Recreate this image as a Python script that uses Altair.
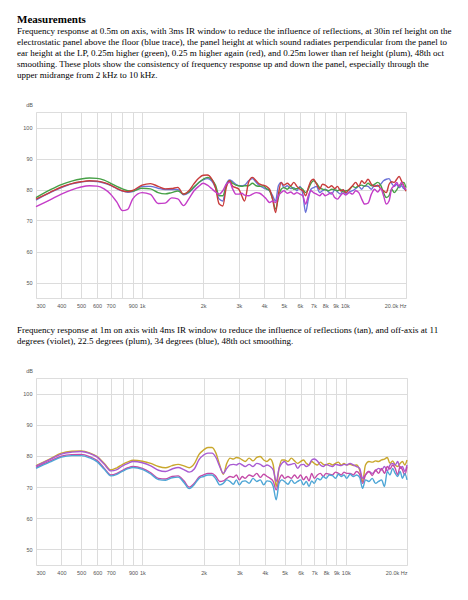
import altair as alt
import pandas as pd

# Frequencies (Hz) shared by all traces
freqs = [300, 350, 400, 450, 500, 550, 600, 650, 700, 750, 800, 850, 900,
         1000, 1100, 1200, 1300, 1400, 1500, 1600, 1700, 1800, 1900, 2000,
         2100, 2200, 2300, 2400, 2500, 2600, 2700, 2800, 2900, 3000, 3100, 3200,
         3350, 3500, 3650, 3800, 3950,
         4100, 4250, 4400, 4550, 4700, 4850, 5000,
         5200, 5400, 5600, 5800, 6000, 6200, 6400, 6600, 6800, 7000,
         7250, 7500, 7750, 8000,
         8300, 8600, 8900, 9200, 9500, 9800, 10100,
         10500, 10900, 11300, 11700, 12100, 12500,
         13000, 13500, 14000, 14500, 15000, 15500, 16000, 16500, 17000, 17500,
         18000, 18500, 19000, 19500, 20000]

# ---- Chart 1 : 0.5 m, different heights ----
blue1 = [76.6, 78.9, 80.6, 81.8, 82.4, 82.7, 82.6, 82.1, 81.3, 80.3, 79.5, 79.1, 79.3,
         81.0, 81.0, 80.4, 80.0, 80.0, 80.0, 78.3, 79.0, 80.6, 82.2, 83.1,
         83.5, 82.8, 80.6, 76.9, 76.3, 81.7, 83.1, 82.5, 81.7, 81.2, 81.2, 81.4,
         82.8, 83.5, 82.3, 81.2, 80.6,
         80.1, 79.6, 78.0, 76.3, 81.2, 82.3, 80.6,
         81.2, 80.3, 80.6, 79.6, 81.0, 78.5, 72.6, 76.9, 80.1, 80.6,
         81.0, 79.0, 79.6, 80.1,
         79.2, 78.5, 79.9, 79.2, 78.5, 79.9, 78.5,
         79.2, 79.6, 80.3, 81.0, 80.1, 81.2,
         81.0, 80.1, 81.4, 81.0, 81.7, 82.8, 83.3, 83.5, 82.0, 81.0,
         81.7, 80.6, 81.2, 80.3, 79.9]
green1 = [77.4, 79.8, 81.6, 82.7, 83.4, 83.7, 83.6, 83.0, 82.0, 81.0, 80.2, 79.6, 79.5,
          80.4, 80.2, 79.0, 78.6, 79.0, 79.5, 78.6, 79.2, 80.8, 82.2, 83.3,
          83.9, 83.3, 81.4, 78.0, 78.0, 81.2, 82.8, 82.0, 81.4, 81.2, 81.0, 81.2,
          81.2, 82.0, 81.2, 81.0, 81.2,
          80.3, 79.6, 76.9, 73.7, 77.4, 80.1, 80.6,
          80.1, 81.0, 80.1, 80.3, 80.6, 80.1, 79.0, 80.1, 82.0, 82.8,
          82.0, 80.6, 80.1, 79.9,
          79.6, 80.1, 79.9, 79.6, 80.1, 79.2, 79.6,
          79.9, 81.0, 80.6, 81.2, 81.4, 81.0,
          82.0, 81.2, 81.7, 82.3, 81.4, 79.0, 77.4, 78.0, 80.1, 79.0,
          79.9, 81.2, 81.7, 82.3, 80.6]
red1 = [76.9, 79.0, 80.8, 81.9, 82.5, 82.8, 82.7, 82.2, 81.4, 80.4, 79.6, 79.3, 79.7,
        81.4, 81.9, 81.0, 80.2, 80.3, 80.7, 78.5, 79.6, 81.8, 83.6, 84.6,
        84.7, 83.5, 80.6, 75.3, 74.7, 80.6, 82.8, 81.0, 80.6, 80.1, 78.0, 76.3,
        82.3, 83.9, 82.8, 81.7, 81.4,
        81.0, 80.1, 76.9, 72.6, 78.5, 82.3, 81.4,
        82.0, 81.2, 82.3, 81.0, 80.1, 79.6, 78.0, 80.6, 82.8, 83.3,
        81.7, 80.1, 81.7, 81.4,
        80.6, 81.2, 80.3, 81.0, 79.6, 79.9, 79.0,
        80.1, 81.2, 82.3, 81.0, 82.8, 82.0,
        83.3, 81.7, 81.0, 81.4, 80.3, 79.6, 79.0, 81.7, 82.5, 82.3,
        83.3, 84.2, 82.8, 81.2, 79.4]
plum1 = [74.5, 76.6, 78.5, 79.9, 80.8, 81.2, 81.1, 80.2, 78.5, 76.0, 73.2, 73.6, 77.0,
         79.0, 78.4, 75.5, 75.6, 77.3, 77.0, 74.8, 77.0, 79.5, 81.0, 82.0,
         81.4, 80.3, 79.2, 78.5, 79.6, 81.7, 82.3, 80.1, 78.5, 78.5, 78.8, 78.2,
         78.0, 78.5, 79.0, 78.8, 78.0,
         76.9, 75.8, 76.3, 75.8, 78.0, 79.0, 79.6,
         78.8, 79.2, 78.5, 79.0, 78.5, 78.0, 75.3, 78.0, 79.6, 79.0,
         78.5, 78.0, 78.8, 78.0,
         78.5, 79.0, 77.4, 76.9, 78.0, 78.8, 78.2,
         79.0, 78.5, 79.6, 79.0, 76.9, 75.3,
         75.6, 78.5, 80.1, 79.2, 80.3, 78.0, 75.3, 76.3, 80.3, 81.2,
         82.3, 81.0, 82.3, 81.0, 79.9]

# ---- Chart 2 : 1 m, on and off axis ----
tan2 = [76.9, 79.0, 80.9, 81.5, 81.6, 81.0, 79.8, 77.6, 75.5, 76.2, 77.3, 78.1, 78.6,
        78.3, 77.6, 76.6, 76.2, 76.9, 77.3, 76.8, 76.2, 77.5, 80.5, 81.9,
        82.7, 82.7, 80.9, 77.1, 74.1, 77.6, 79.3, 79.0, 79.5, 79.3, 78.7, 78.2,
        79.3, 78.4, 79.5, 79.8, 78.7,
        78.2, 79.0, 77.1, 70.2, 76.0, 78.7, 78.7,
        78.2, 79.3, 78.4, 77.6, 78.2, 78.7, 77.6, 77.1, 78.2, 77.6,
        77.1, 78.0, 77.3, 77.1,
        77.6, 77.1, 77.6, 78.0, 77.1, 77.6, 77.1,
        77.3, 76.9, 77.1, 75.5, 71.8, 77.1,
        78.2, 78.0, 78.4, 78.2, 78.7, 79.0, 79.5, 77.6, 78.4, 77.1,
        76.6, 77.6, 78.2, 77.1, 78.7]
violet2 = [76.7, 78.8, 80.6, 81.2, 81.4, 80.8, 79.6, 77.3, 75.2, 75.6, 76.8, 77.6, 78.2,
           77.8, 76.8, 75.4, 75.0, 75.8, 76.3, 75.6, 74.8, 75.8, 78.8, 80.3,
           80.9, 80.9, 79.5, 76.6, 74.4, 76.0, 77.1, 77.3, 77.1, 77.6, 77.1, 76.6,
           77.3, 76.6, 77.6, 77.3, 76.6,
           77.1, 76.6, 75.5, 71.8, 76.0, 77.6, 78.2,
           77.1, 77.3, 77.6, 76.0, 77.1, 77.3, 76.6, 77.1, 78.7, 79.0,
           78.4, 77.1, 76.6, 77.3,
           76.9, 76.6, 77.3, 77.1, 76.9, 77.3, 77.1,
           77.6, 77.1, 76.6, 76.0, 72.8, 73.9,
           75.0, 74.4, 75.2, 76.0, 75.5, 76.6, 75.2, 77.1, 77.6, 77.1,
           78.2, 76.0, 76.6, 75.0, 77.1]
plum2 = [76.3, 78.3, 79.9, 80.4, 80.5, 79.8, 78.5, 76.0, 73.9, 74.4, 75.4, 76.2, 76.6,
         76.0, 74.6, 72.8, 72.6, 73.4, 73.6, 72.0, 70.0, 71.2, 73.2, 73.9,
         74.4, 74.4, 73.4, 71.8, 72.0, 72.8, 73.4, 73.1, 73.9, 72.3, 73.4, 72.8,
         73.9, 73.4, 74.4, 73.1, 74.1,
         73.4, 72.8, 71.8, 69.1, 72.3, 73.9, 72.8,
         73.4, 72.8, 73.9, 72.8, 73.9, 72.3, 73.4, 72.0, 74.4, 72.8,
         73.9, 74.4, 73.4, 74.4,
         74.1, 73.9, 74.8, 74.4, 73.9, 74.8, 74.4,
         74.4, 73.9, 75.0, 74.1, 71.2, 73.9,
         75.0, 73.7, 75.5, 74.4, 76.0, 74.4, 76.6, 75.8, 77.1, 76.0,
         73.9, 76.6, 75.5, 73.9, 76.6]
blue2 = [76.0, 78.0, 79.6, 80.1, 80.1, 79.4, 78.1, 75.7, 73.6, 74.1, 75.1, 75.9, 76.3,
         75.7, 74.2, 72.4, 72.2, 73.0, 73.2, 71.5, 69.5, 70.8, 72.8, 73.4,
         73.9, 73.9, 72.6, 70.7, 71.2, 72.3, 71.8, 70.9, 72.3, 70.7, 71.8, 72.0,
         71.2, 72.8, 71.8, 72.3, 70.7,
         72.0, 71.8, 70.2, 65.9, 71.2, 72.3, 71.8,
         70.9, 72.3, 71.2, 71.8, 72.3, 70.7, 71.8, 70.2, 72.0, 71.2,
         72.8, 72.3, 73.4, 72.8,
         73.9, 73.7, 72.8, 74.1, 73.4, 73.9, 72.8,
         74.1, 73.4, 73.9, 73.1, 69.6, 72.3,
         71.8, 72.8, 71.2, 71.8, 72.3, 70.2, 75.0, 73.9, 76.0, 74.4,
         73.4, 75.0, 72.8, 74.4, 72.3]

series1 = ["blue 0.5m", "green 0.5m", "red 0.5m", "plum 0.5m"]
values1 = [blue1, green1, red1, plum1]
colors1 = ["#6a72d8", "#46a046", "#c83c3c", "#c43cc8"]

series2 = ["tan 1m", "violet 1m", "plum 1m", "blue 1m"]
values2 = [tan2, violet2, plum2, blue2]
colors2 = ["#c9a72c", "#a85ad2", "#c44aa8", "#4ea6d6"]

tick_vals = [300, 400, 500, 600, 700, 800, 900, 1000, 2000, 3000, 4000, 5000,
             6000, 7000, 8000, 9000, 10000, 20000]
tick_text = ["300", "400", "500", "600", "700", "", "900", "1k", "2k", "3k", "4k", "5k",
             "6k", "7k", "8k", "9k", "10k", "20.0k Hz"]

para1 = [
    "Frequency response at 0.5m on axis, with 3ms IR window to reduce the influence of reflections, at 30in ref height on the",
    "electrostatic panel above the floor (blue trace), the panel height at which sound radiates perpendicular from the panel to",
    "ear height at the LP, 0.25m higher (green), 0.25 m higher again (red), and 0.25m lower than ref height (plum), 48th oct",
    "smoothing. These plots show the consistency of frequency response up and down the panel, especially through the",
    "upper midrange from 2 kHz to 10 kHz.",
]
para2 = [
    "Frequency response at 1m on axis with 4ms IR window to reduce the influence of reflections (tan), and off-axis at 11",
    "degrees (violet), 22.5 degrees (plum), 34 degrees (blue), 48th oct smoothing.",
]


def long_df(names, vals):
    rows = []
    for order, (n, v) in enumerate(zip(names, vals)):
        for f, d in zip(freqs, v):
            rows.append({"freq": f, "db": d, "trace": n, "ord": order})
    return pd.DataFrame(rows)


label_expr = "{" + ", ".join(f"'{v}': '{t}'" for v, t in zip(tick_vals, tick_text)) + "}[datum.value]"


def panel(df, names, colors, width, height, title):
    x = alt.X("freq:Q", scale=alt.Scale(type="log", domain=[300, 20000], nice=False),
              axis=alt.Axis(values=tick_vals, labelExpr=label_expr, title=None,
                            ticks=False, domain=False, labelPadding=5,
                            labelFontSize=5.5, labelColor="#555", labelFont="Liberation Sans",
                            labelOverlap=False, gridColor="#dcdcdc", gridWidth=1))
    y = alt.Y("db:Q", scale=alt.Scale(domain=[45, 105], nice=False, zero=False),
              axis=alt.Axis(values=[50, 60, 70, 80, 90, 100], title="dB", titleAngle=0,
                            titleX=-7, titleY=-5, titleAlign="center", titleFontSize=5.5,
                            titleFontWeight="normal", titleColor="#555", titleFont="Liberation Sans",
                            ticks=False, domain=False, labelPadding=4,
                            labelFontSize=5.5, labelColor="#555", labelFont="Liberation Sans",
                            gridColor="#dcdcdc", gridWidth=1))
    return alt.Chart(df).mark_line(strokeWidth=1.4, interpolate="monotone").encode(
        x=x, y=y,
        color=alt.Color("trace:N", scale=alt.Scale(domain=names, range=colors), legend=None),
        detail="trace:N",
        order="ord:Q",
    ).properties(width=width, height=height, title=title)


title1 = alt.TitleParams(
    text="Measurements", subtitle=para1, anchor="start", frame="group", dx=-19,
    font="Liberation Serif", fontSize=11, fontWeight="bold", color="black",
    subtitleFont="Liberation Serif", subtitleFontSize=9, subtitleColor="black",
    subtitleLineHeight=11, subtitlePadding=2, offset=22,
)
title2 = alt.TitleParams(
    text=para2, anchor="start", frame="group", dx=-19,
    font="Liberation Serif", fontSize=9, fontWeight="normal", color="black",
    lineHeight=11, offset=22,
)

c1 = panel(long_df(series1, values1), series1, colors1, 370, 186, title1)
c2 = panel(long_df(series2, values2), series2, colors2, 371, 187, title2)

chart = alt.vconcat(c1, c2, spacing=16).resolve_scale(color="independent").configure_view(
    stroke="#bdbdbd", strokeWidth=1.5
).configure(padding={"left": 8, "top": 5, "right": 5, "bottom": 5}, background="white")

chart.save("out.html", embed_options={"renderer": "svg", "actions": False})
